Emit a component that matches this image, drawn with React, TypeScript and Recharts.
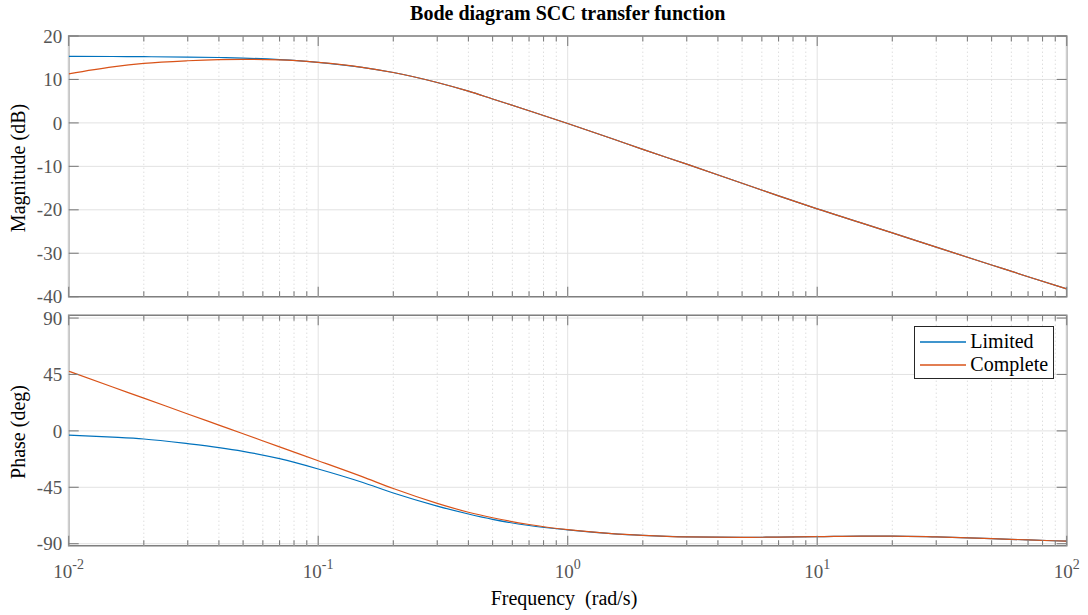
import { LineChart, Line, XAxis, YAxis, CartesianGrid, ReferenceLine, ReferenceArea, Legend } from 'recharts'

// frequency points (rad/s)
const freq = [0.01, 0.015, 0.02, 0.03, 0.04, 0.05, 0.07, 0.1, 0.15, 0.2, 0.3, 0.4, 0.5, 0.7, 1, 1.5, 2, 3, 5, 7, 10, 15, 20, 30, 50, 70, 100]

// magnitude (dB)
const magLimited = [15.3, 15.28, 15.24, 15.16, 15.05, 14.92, 14.58, 13.95, 12.8, 11.6, 9.3, 7.3, 5.5, 2.8, -0.15, -3.6, -6.1, -9.5, -13.9, -16.8, -19.8, -23.0, -25.3, -28.6, -32.7, -35.4, -38.2]
const magComplete = [11.3, 12.9, 13.7, 14.3, 14.55, 14.62, 14.5, 13.93, 12.8, 11.6, 9.3, 7.3, 5.5, 2.8, -0.15, -3.6, -6.1, -9.5, -13.9, -16.8, -19.8, -23.0, -25.3, -28.6, -32.7, -35.4, -38.2]

// phase (deg)
const phaseLimited = [-3.4, -5.0, -6.5, -10.2, -13.3, -16.3, -22.2, -30.4, -41.0, -49.6, -60.0, -66.3, -70.6, -75.5, -79.0, -82.0, -83.4, -84.6, -85.0, -84.7, -84.4, -83.9, -83.9, -84.6, -86.0, -87.0, -88.0]
const phaseComplete = [47.6, 35.0, 26.1, 13.5, 4.6, -2.3, -12.8, -23.8, -36.5, -46.0, -57.8, -64.9, -69.3, -74.7, -78.8, -81.9, -83.3, -84.6, -85.0, -84.7, -84.4, -83.9, -83.9, -84.6, -86.0, -87.0, -88.0]

const seriesNames = ['Limited', 'Complete']
const decades = [0.01, 0.1, 1, 10, 100]
const minorTicks = [
  0.02, 0.03, 0.04, 0.05, 0.06, 0.07, 0.08, 0.09,
  0.2, 0.3, 0.4, 0.5, 0.6, 0.7, 0.8, 0.9,
  2, 3, 4, 5, 6, 7, 8, 9,
  20, 30, 40, 50, 60, 70, 80, 90,
]
const xTicks = [...decades, ...minorTicks].sort((a, b) => a - b)
const magTicks = [-40, -30, -20, -10, 0, 10, 20]
const phaseTicks = [-90, -45, 0, 45, 90]
const magDomain = [-40, 20]
const phaseDomain = [-91.6, 92.2]

const magData = freq.map((f, i) => ({ f, limited: magLimited[i], complete: magComplete[i] }))
const phaseData = freq.map((f, i) => ({ f, limited: phaseLimited[i], complete: phaseComplete[i] }))

const FONT = '"Liberation Serif", "Times New Roman", serif'
const BLUE = '#0072BD'
const ORANGE = '#D95319'
const AXIS = '#7f7f7f'
const TICK_TEXT = '#555555'
const GRID = '#e2e2e2'
const LEFT = 68.7
const RIGHT = 1066.7

const isDecade = (v: number) => decades.includes(v)

// inward tick marks on bottom and top edges, decade labels below
const makeXTick = (top: number, bottom: number, labels: boolean) => (props: any) => {
  const { x, payload } = props
  const v = payload.value
  const len = isDecade(v) ? 10 : 5.5
  return (
    <g>
      <line x1={x} x2={x} y1={bottom} y2={bottom - len} stroke={AXIS} strokeWidth={1.1} />
      <line x1={x} x2={x} y1={top} y2={top + len} stroke={AXIS} strokeWidth={1.1} />
      {labels && isDecade(v) && (
        <text x={x} y={bottom + 32} textAnchor="middle" fill={TICK_TEXT} style={{ fontFamily: FONT, fontSize: 19 }}>
          <tspan>10</tspan>
          <tspan dy={-8.5} style={{ fontSize: 14 }}>{String(Math.round(Math.log10(v)))}</tspan>
        </text>
      )}
    </g>
  )
}

const renderYTick = (props: any) => {
  const { y, payload } = props
  return (
    <g>
      <line x1={LEFT} x2={LEFT + 10} y1={y} y2={y} stroke={AXIS} strokeWidth={1.1} />
      <line x1={RIGHT - 10} x2={RIGHT} y1={y} y2={y} stroke={AXIS} strokeWidth={1.1} />
      <text x={LEFT - 6.5} y={y} dy="0.35em" textAnchor="end" fill={TICK_TEXT} style={{ fontFamily: FONT, fontSize: 19 }}>
        {String(payload.value)}
      </text>
    </g>
  )
}

function LegendBox(props: any) {
  const items = [...(props.payload || [])].sort(
    (a: any, b: any) => seriesNames.indexOf(a.value) - seriesNames.indexOf(b.value)
  )
  return (
    <div style={{ width: 140, height: 53, boxSizing: 'border-box', border: '1px solid #262626', background: '#fff', paddingTop: 3, paddingLeft: 5, fontFamily: FONT, fontSize: 20, color: '#000' }}>
      {items.map((p: any) => (
        <div key={p.value} style={{ display: 'flex', alignItems: 'center', height: 23, lineHeight: '23px' }}>
          <svg width={46} height={4} style={{ display: 'block' }}>
            <line x1={0} x2={46} y1={2} y2={2} stroke={p.color} strokeWidth={1.3} />
          </svg>
          <span style={{ marginLeft: 4 }}>{p.value}</span>
        </div>
      ))}
    </div>
  )
}

export default function App() {
  return (
    <div style={{ position: 'absolute', left: 0, top: 0, width: 1088, height: 615, background: '#fff' }}>
      <div style={{ position: 'absolute', left: 0, top: 0 }}>
        <LineChart width={1088} height={312} data={magData} margin={{ top: 36, right: 21.3, bottom: 0, left: 0 }}>
          <XAxis dataKey="f" type="number" scale="log" domain={[0.01, 100]} ticks={xTicks} interval={0} allowDataOverflow height={15.3} axisLine={false} tickLine={false} tick={makeXTick(36, 296.7, false)} />
          <YAxis type="number" domain={magDomain} ticks={magTicks} interval={0} allowDataOverflow width={LEFT} axisLine={false} tickLine={false} tick={renderYTick} />
          <CartesianGrid vertical={false} stroke={GRID} />
          {minorTicks.map((v) => (
            <ReferenceLine key={'m' + v} x={v} stroke="#cfcfcf" strokeDasharray="1 3" />
          ))}
          {decades.map((v) => (
            <ReferenceLine key={'d' + v} x={v} stroke={GRID} />
          ))}
          <ReferenceArea x1={0.01} x2={100} y1={magDomain[0]} y2={magDomain[1]} fill="none" fillOpacity={0} stroke={AXIS} strokeWidth={1.6} />
          <Line dataKey="limited" name="Limited" type="monotone" stroke={BLUE} strokeWidth={1.2} dot={false} isAnimationActive={false} />
          <Line dataKey="complete" name="Complete" type="monotone" stroke={ORANGE} strokeWidth={1.2} dot={false} isAnimationActive={false} />
        </LineChart>
      </div>

      <div style={{ position: 'absolute', left: 0, top: 300 }}>
        <LineChart width={1088} height={315} data={phaseData} margin={{ top: 15.3, right: 21.3, bottom: 0, left: 0 }}>
          <XAxis dataKey="f" type="number" scale="log" domain={[0.01, 100]} ticks={xTicks} interval={0} allowDataOverflow height={69.3} axisLine={false} tickLine={false} tick={makeXTick(15.3, 245.7, true)} />
          <YAxis type="number" domain={phaseDomain} ticks={phaseTicks} interval={0} allowDataOverflow width={LEFT} axisLine={false} tickLine={false} tick={renderYTick} />
          <CartesianGrid vertical={false} stroke={GRID} />
          {minorTicks.map((v) => (
            <ReferenceLine key={'m' + v} x={v} stroke="#cfcfcf" strokeDasharray="1 3" />
          ))}
          {decades.map((v) => (
            <ReferenceLine key={'d' + v} x={v} stroke={GRID} />
          ))}
          <ReferenceArea x1={0.01} x2={100} y1={phaseDomain[0]} y2={phaseDomain[1]} fill="none" fillOpacity={0} stroke={AXIS} strokeWidth={1.6} />
          <Line dataKey="limited" name="Limited" type="monotone" stroke={BLUE} strokeWidth={1.2} dot={false} isAnimationActive={false} />
          <Line dataKey="complete" name="Complete" type="monotone" stroke={ORANGE} strokeWidth={1.2} dot={false} isAnimationActive={false} />
          <Legend layout="vertical" align="center" verticalAlign="middle" content={<LegendBox />} wrapperStyle={{ left: 914.3, top: 26, width: 140, height: 53 }} />
        </LineChart>
      </div>

      <svg width={1088} height={615} style={{ position: 'absolute', left: 0, top: 0, pointerEvents: 'none' }}>
        <text x={567.7} y={19.5} textAnchor="middle" fontFamily={FONT} fontSize={20} fontWeight="bold" fill="#000">
          Bode diagram SCC transfer function
        </text>
        <text transform="translate(25,168) rotate(-90)" textAnchor="middle" fontFamily={FONT} fontSize={20} fill="#000">
          Magnitude (dB)
        </text>
        <text transform="translate(25,432) rotate(-90)" textAnchor="middle" fontFamily={FONT} fontSize={20} fill="#000">
          Phase (deg)
        </text>
        <text x={564} y={605} textAnchor="middle" fontFamily={FONT} fontSize={20} fill="#000">
          {'Frequency\u00a0 (rad/s)'}
        </text>
      </svg>
    </div>
  )
}
